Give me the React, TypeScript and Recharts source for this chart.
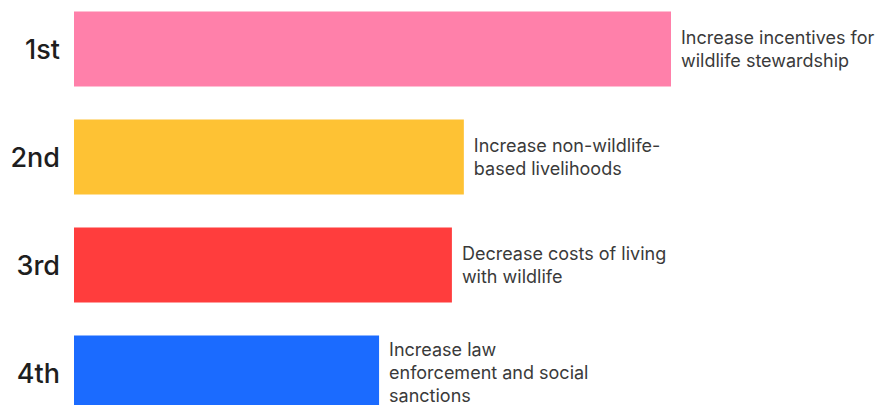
import React from "react";
import { BarChart, Bar, XAxis, YAxis, Cell, LabelList } from "recharts";

const ranks = ["1st", "2nd", "3rd", "4th"];
const scores = [100, 65.3, 63.3, 51.1];
const actions = [
  "Increase incentives for\nwildlife stewardship",
  "Increase non-wildlife-\nbased livelihoods",
  "Decrease costs of living\nwith wildlife",
  "Increase law\nenforcement and social\nsanctions",
];
const colors = ["#FF80AA", "#FEC234", "#FF3D3D", "#1B6BFF"];

const data = ranks.map((rank, i) => ({
  rank,
  score: scores[i],
  action: actions[i],
}));

const FONT = "Inter, 'Noto Sans', sans-serif";

function ActionLabel(props: any) {
  const { x, y, width, height, value } = props;
  const lines = String(value).split("\n");
  const lineH = 23;
  const cy = y + height / 2 - 1;
  const startY = cy - ((lines.length - 1) * lineH) / 2;
  return (
    <text
      x={x + width + 10}
      y={startY}
      fill="#3a3a3a"
      fontSize={18}
      fontFamily={FONT}
      dominantBaseline="central"
    >
      {lines.map((line, i) => (
        <tspan key={i} x={x + width + 10} y={startY + i * lineH} dominantBaseline="central">
          {line}
        </tspan>
      ))}
    </text>
  );
}

export default function App() {
  return (
    <div style={{ position: "absolute", left: 0, top: -5, background: "#fff" }}>
      <BarChart
        width={882}
        height={432}
        data={data}
        layout="vertical"
        margin={{ top: 0, right: 211, bottom: 0, left: 0 }}
        barCategoryGap={16.5}
      >
        <XAxis type="number" domain={[0, 100]} hide />
        <YAxis
          type="category"
          dataKey="rank"
          width={74}
          tickLine={false}
          axisLine={false}
          tickMargin={8}
          tick={{ fill: "#1e1e1e", fontSize: 27, fontWeight: 500, fontFamily: FONT }}
        />
        <Bar dataKey="score" isAnimationActive={false}>
          {data.map((d, i) => (
            <Cell key={d.rank} fill={colors[i]} />
          ))}
          <LabelList dataKey="action" content={ActionLabel} />
        </Bar>
      </BarChart>
    </div>
  );
}
